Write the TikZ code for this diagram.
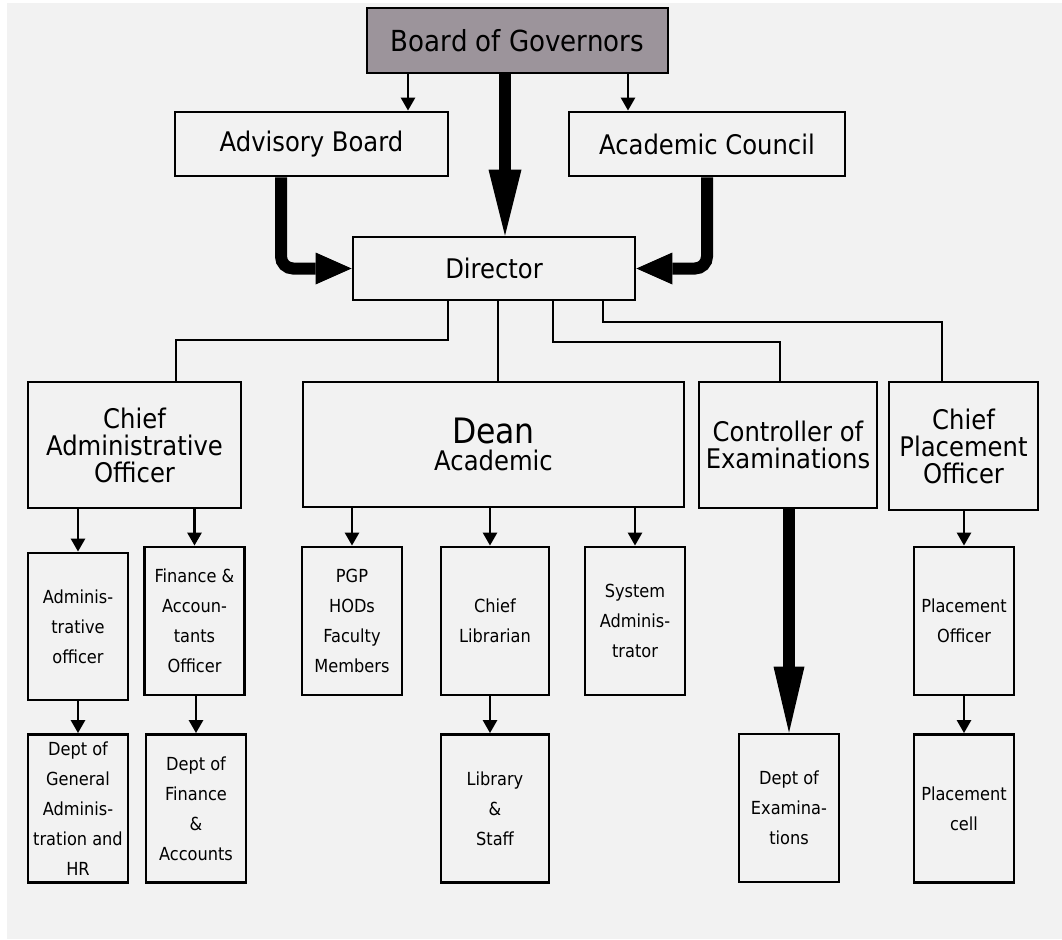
\documentclass[tikz,border=0pt]{standalone}
\usepackage{fontspec}
\setmainfont{DejaVu Sans Condensed}
\usetikzlibrary{arrows.meta}
\definecolor{boardfill}{RGB}{156,148,155}
\definecolor{pagebg}{RGB}{242,242,242}
\tikzstyle{link} = [line width=2pt]
\tikzstyle{arrow} = [line width=2.6pt,-{Triangle[length=13pt,width=14pt]}]
\tikzstyle{fatarrow} = [line width=12pt,-{Triangle[length=36pt,width=32pt,line width=0pt]}]

\begin{document}
\begin{tikzpicture}
        [
            x=1pt,y=-1pt,
            box/.style={rectangle,draw=black,line width=2.8pt,fill=pagebg,inner sep=0pt,align=center},
            big/.style={box,font=\fontsize{27}{27}\selectfont},
            small/.style={box,font=\fontsize{18}{30}\selectfont,minimum width=100pt,minimum height=148pt},
        ]

    \useasboundingbox (0,0) rectangle (1062,939);
    \fill[white] (0,0) rectangle (1062,939);
    \fill[pagebg] (7,3) rectangle (1062,939);

    % top of the chart
    \node[big,font=\fontsize{29}{29}\selectfont,fill=boardfill,minimum width=301pt,minimum height=65pt] (bog) at (517.5,40.5){Board of Governors};
    \node[big,minimum width=273pt,minimum height=64pt] (adv) at (311.5,144){Advisory Board};
    \node[big,minimum width=276pt,minimum height=64pt] (acad) at (707,144){Academic Council};
    \node[big,minimum width=282pt,minimum height=63pt] (dir) at (494,268.5){Director};

    % second row
    \node[big,minimum width=213pt,minimum height=126pt] (cao) at (134.5,445){Chief\\Administrative\\Officer};
    \node[big,minimum width=381pt,minimum height=125pt] (dean) at (493.5,444.5){{\fontsize{35}{32}\selectfont Dean}\\Academic};
    \node[big,minimum width=178pt,minimum height=126pt] (coe) at (788,445){Controller of\\Examinations};
    \node[big,minimum width=149pt,minimum height=128pt] (cpo) at (963.5,446){Chief\\Placement\\Officer};

    % third row
    \node[small,minimum height=147pt] (ao) at (78,626.5){Adminis-\\trative\\officer};
    \node[small] (fao) at (194.5,621){Finance \&\\Accoun-\\tants\\Officer};
    \node[small] (pgp) at (352,621){PGP\\HODs\\Faculty\\Members};
    \node[small,minimum width=108pt] (lib) at (495,621){Chief\\Librarian};
    \node[small] (sys) at (635,621){System\\Adminis-\\trator};
    \node[small] (po) at (964,621){Placement\\Officer};

    % fourth row
    \node[small] (dga) at (78,808.5){Dept of\\General\\Adminis-\\tration and\\HR};
    \node[small] (dfa) at (196,808.5){Dept of\\Finance\\\&\\Accounts};
    \node[small,minimum width=108pt] (lst) at (495,808.5){Library\\\&\\Staff};
    \node[small] (dex) at (789,808){Dept of\\Examina-\\tions};
    \node[small] (pc) at (964,808.5){Placement\\cell};

    % arrows from the board
    \coordinate (b1) at ([xshift=-109.5pt]bog.south);
    \coordinate (b2) at ([xshift=110.5pt]bog.south);
    \coordinate (b3) at ([xshift=-12.5pt]bog.south);
    \draw[arrow] (b1) -- (b1 |- adv.north);
    \draw[arrow] (b2) -- (b2 |- acad.north);
    \draw[fatarrow,-{Triangle[length=66pt,width=33pt,line width=0pt]}] (b3) -- (b3 |- dir.north);
    \draw[fatarrow,rounded corners=12pt] ([xshift=-30.5pt]adv.south) |- (dir.west);
    \draw[fatarrow,rounded corners=12pt] (acad.south) |- (dir.east);

    % lines from the director
    \draw[link] ([xshift=-46pt]dir.south) -- ++(0,39) -| ([xshift=41.5pt]cao.north);
    \draw[line width=2.6pt] ([xshift=4pt]dir.south) -- ([xshift=4pt]dir.south |- dean.north);
    \draw[link] ([xshift=59pt]dir.south) -- ++(0,41) -| ([xshift=-8pt]coe.north);
    \draw[link] ([xshift=109pt]dir.south) -- ++(0,21) -| ([xshift=-21.5pt]cpo.north);

    % arrows to the lower rows
    \draw[arrow] (ao.north |- cao.south) -- (ao.north);
    \draw[arrow] (fao.north |- cao.south) -- (fao.north);
    \draw[arrow] (pgp.north |- dean.south) -- (pgp.north);
    \draw[arrow] ([xshift=-5pt]lib.north |- dean.south) -- ([xshift=-5pt]lib.north);
    \draw[arrow] (sys.north |- dean.south) -- (sys.north);
    \draw[arrow] (po.north |- cpo.south) -- (po.north);
    \draw[fatarrow,-{Triangle[length=66pt,width=31pt,line width=0pt]}] (dex.north |- coe.south) -- (dex.north);
    \draw[arrow] (dga.north |- ao.south) -- (dga.north);
    \draw[arrow] (dfa.north |- fao.south) -- (dfa.north);
    \draw[arrow] ([xshift=-5pt]lst.north |- lib.south) -- ([xshift=-5pt]lst.north);
    \draw[arrow] (pc.north |- po.south) -- (pc.north);
    \end{tikzpicture}
\end{document}
